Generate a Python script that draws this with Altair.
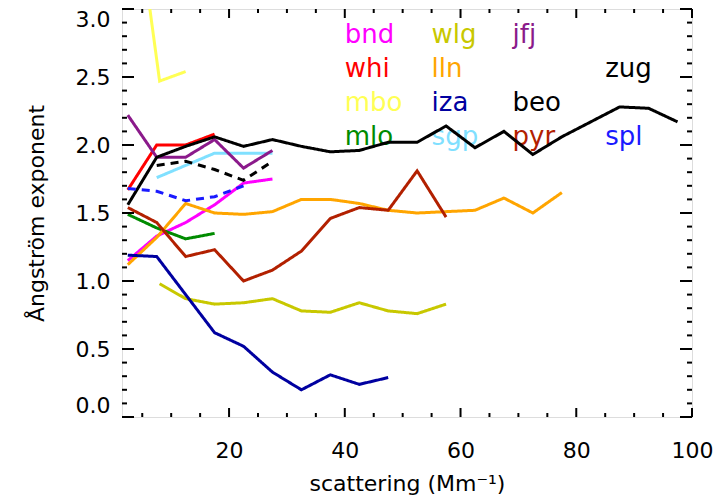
import altair as alt
import pandas as pd

# ---------------- data ----------------
station_names = ["bnd", "whi", "mbo", "mlo", "wlg", "lln", "iza", "sgp", "jfj", "beo", "pyr", "zug", "spl"]
station_colors = ["#ff00ff", "#ff0000", "#ffff55", "#008b00", "#c8c800", "#ffa500", "#0000a0",
                  "#80e0ff", "#8b1a8b", "#000000", "#b22000", "#000000", "#1a1aff"]
station_dashed = [False, False, False, False, False, False, False, False, False, True, False, False, True]

bnd_x = [2.5, 7.5, 12.5, 17.5, 22.5, 27.5]
bnd_y = [1.15, 1.33, 1.43, 1.56, 1.72, 1.75]
whi_x = [2.5, 7.5, 12.5, 17.5]
whi_y = [1.67, 2.00, 2.00, 2.08]
mbo_x = [2.5, 8.0, 12.5]
mbo_y = [4.2, 2.47, 2.54]
mlo_x = [2.5, 7.5, 12.5, 17.5]
mlo_y = [1.49, 1.39, 1.31, 1.35]
wlg_x = [8.0, 12.5, 17.5, 22.5, 27.5, 32.5, 37.5, 42.5, 47.5, 52.5, 57.5]
wlg_y = [0.98, 0.87, 0.83, 0.84, 0.87, 0.78, 0.77, 0.84, 0.78, 0.76, 0.83]
lln_x = [2.5, 7.5, 12.5, 17.5, 22.5, 27.5, 32.5, 37.5, 42.5, 47.5, 52.5, 57.5, 62.5, 67.5, 72.5, 77.5]
lln_y = [1.12, 1.32, 1.57, 1.50, 1.49, 1.51, 1.60, 1.60, 1.57, 1.52, 1.50, 1.51, 1.52, 1.61, 1.50, 1.65]
iza_x = [2.5, 7.5, 12.5, 17.5, 22.5, 27.5, 32.5, 37.5, 42.5, 47.5]
iza_y = [1.19, 1.18, 0.90, 0.62, 0.52, 0.33, 0.20, 0.31, 0.24, 0.29]
sgp_x = [7.5, 12.5, 17.5, 22.5, 27.5]
sgp_y = [1.76, 1.85, 1.94, 1.94, 1.94]
jfj_x = [2.5, 7.5, 12.5, 17.5, 22.5, 27.5]
jfj_y = [2.22, 1.91, 1.91, 2.04, 1.83, 1.96]
beo_x = [7.5, 12.5, 17.5, 22.5, 27.5]
beo_y = [1.85, 1.88, 1.82, 1.74, 1.88]
pyr_x = [2.5, 7.5, 12.5, 17.5, 22.5, 27.5, 32.5, 37.5, 42.5, 47.5, 52.5, 57.5]
pyr_y = [1.54, 1.43, 1.18, 1.23, 1.00, 1.08, 1.22, 1.46, 1.54, 1.52, 1.81, 1.47]
zug_x = [2.5, 7.5, 12.5, 17.5, 22.5, 27.5, 32.5, 37.5, 42.5, 47.5,
         52.5, 57.5, 62.5, 67.5, 72.5, 77.5, 82.5, 87.5, 92.5, 97.5]
zug_y = [1.56, 1.91, 1.99, 2.06, 1.99, 2.04, 1.99, 1.95, 1.96, 2.02,
         2.02, 2.14, 1.98, 2.10, 1.93, 2.06, 2.17, 2.28, 2.27, 2.17]
spl_x = [2.5, 7.5, 12.5, 17.5, 22.5]
spl_y = [1.68, 1.66, 1.59, 1.62, 1.70]

# in-plot legend labels (column / row anchors in data units)
label_x = [40, 40, 40, 40, 55, 55, 55, 55, 69, 69, 69, 85, 85]
label_y = [2.75, 2.5, 2.25, 2.0, 2.75, 2.5, 2.25, 2.0, 2.75, 2.25, 2.0, 2.5, 2.0]
label_names = ["bnd", "whi", "mbo", "mlo", "wlg", "lln", "iza", "sgp", "jfj", "beo", "pyr", "zug", "spl"]

x_major = [20, 40, 60, 80, 100]
x_minor = [5, 10, 15, 25, 30, 35, 45, 50, 55, 65, 70, 75, 85, 90, 95]
y_major = [0.0, 0.5, 1.0, 1.5, 2.0, 2.5, 3.0]
y_minor = [0.1, 0.2, 0.3, 0.4, 0.6, 0.7, 0.8, 0.9, 1.1, 1.2, 1.3, 1.4, 1.6, 1.7, 1.8, 1.9,
           2.1, 2.2, 2.3, 2.4, 2.6, 2.7, 2.8, 2.9]

# ---------------- build tables ----------------
series = {
    "bnd": (bnd_x, bnd_y), "whi": (whi_x, whi_y), "mbo": (mbo_x, mbo_y), "mlo": (mlo_x, mlo_y),
    "wlg": (wlg_x, wlg_y), "lln": (lln_x, lln_y), "iza": (iza_x, iza_y), "sgp": (sgp_x, sgp_y),
    "jfj": (jfj_x, jfj_y), "beo": (beo_x, beo_y), "pyr": (pyr_x, pyr_y), "zug": (zug_x, zug_y),
    "spl": (spl_x, spl_y),
}
rows = []
for name in station_names:
    xs, ys = series[name]
    for i, (xv, yv) in enumerate(zip(xs, ys)):
        rows.append({"station": name, "x": xv, "y": yv, "order": i})
lines_df = pd.DataFrame(rows)

color_of = dict(zip(station_names, station_colors))
labels_df = pd.DataFrame({
    "label": label_names, "x": label_x, "y": label_y,
    "color": [color_of[n] for n in label_names],
})

W, H = 570, 408
FONT = "DejaVu Sans"

xscale = alt.Scale(domain=[1.5, 100], nice=False, zero=False)
yscale = alt.Scale(domain=[0, 3], nice=False, zero=False)

dash_range = [[8, 6] if d else [1, 0] for d in station_dashed]

x_axis = alt.Axis(values=x_major, ticks=False, tickSize=0, domain=False, grid=False,
                  labelFont=FONT, labelFontSize=22, labelColor="black",
                  labelPadding=23, title="scattering (Mm⁻¹)", titleFont=FONT,
                  titleFontSize=22, titleFontWeight="normal", titleColor="black",
                  titlePadding=12, labelFlush=False)
y_axis = alt.Axis(values=y_major, format=".1f", ticks=False, tickSize=0, domain=False,
                  grid=False, labelFont=FONT, labelFontSize=22, labelColor="black",
                  labelPadding=12, labelFlush=True, title="Ångström exponent",
                  titleFont=FONT, titleFontSize=22, titleFontWeight="normal",
                  titleColor="black", titlePadding=27)

labels = alt.Chart(labels_df).mark_text(
    align="left", baseline="alphabetic", font=FONT, fontSize=26
).encode(
    x=alt.X("x:Q", scale=xscale, axis=x_axis),
    y=alt.Y("y:Q", scale=yscale, axis=y_axis),
    text="label:N",
    color=alt.Color("color:N", scale=None),
)

lines = alt.Chart(lines_df).mark_line(strokeWidth=3, clip=True).encode(
    x=alt.X("x:Q", scale=xscale, axis=x_axis),
    y=alt.Y("y:Q", scale=yscale, axis=y_axis),
    color=alt.Color("station:N", scale=alt.Scale(domain=station_names, range=station_colors), legend=None),
    strokeDash=alt.StrokeDash("station:N", scale=alt.Scale(domain=station_names, range=dash_range), legend=None),
    order="order:Q",
)

def tick_layer(values, channel, side, length):
    df = pd.DataFrame({"x": values}) if channel == "x" else pd.DataFrame({"y": values})
    c = alt.Chart(df).mark_rule(color="black", strokeWidth=2)
    if channel == "x":
        enc = dict(x=alt.X("x:Q", scale=xscale, axis=x_axis))
        if side == "bottom":
            enc.update(y=alt.value(H), y2=alt.value(H - length))
        else:
            enc.update(y=alt.value(0), y2=alt.value(length))
    else:
        enc = dict(y=alt.Y("y:Q", scale=yscale, axis=y_axis))
        if side == "left":
            enc.update(x=alt.value(0), x2=alt.value(length))
        else:
            enc.update(x=alt.value(W), x2=alt.value(W - length))
    return c.encode(**enc)

ticks = [
    tick_layer(x_major, "x", "bottom", 9), tick_layer(x_minor, "x", "bottom", 4),
    tick_layer(x_major, "x", "top", 9), tick_layer(x_minor, "x", "top", 4),
    tick_layer(y_major, "y", "left", 12), tick_layer(y_minor, "y", "left", 5),
    tick_layer(y_major, "y", "right", 12), tick_layer(y_minor, "y", "right", 5),
]

chart = alt.layer(labels, lines, *ticks).properties(
    width=W, height=H,
    autosize=alt.AutoSizeParams(type="none"),
    padding={"left": 122, "top": 9, "right": 36, "bottom": 81},
).configure_view(
    stroke="black", strokeWidth=2
).configure(background="white")

chart.save("out.html", embed_options={"renderer": "svg", "actions": False})
